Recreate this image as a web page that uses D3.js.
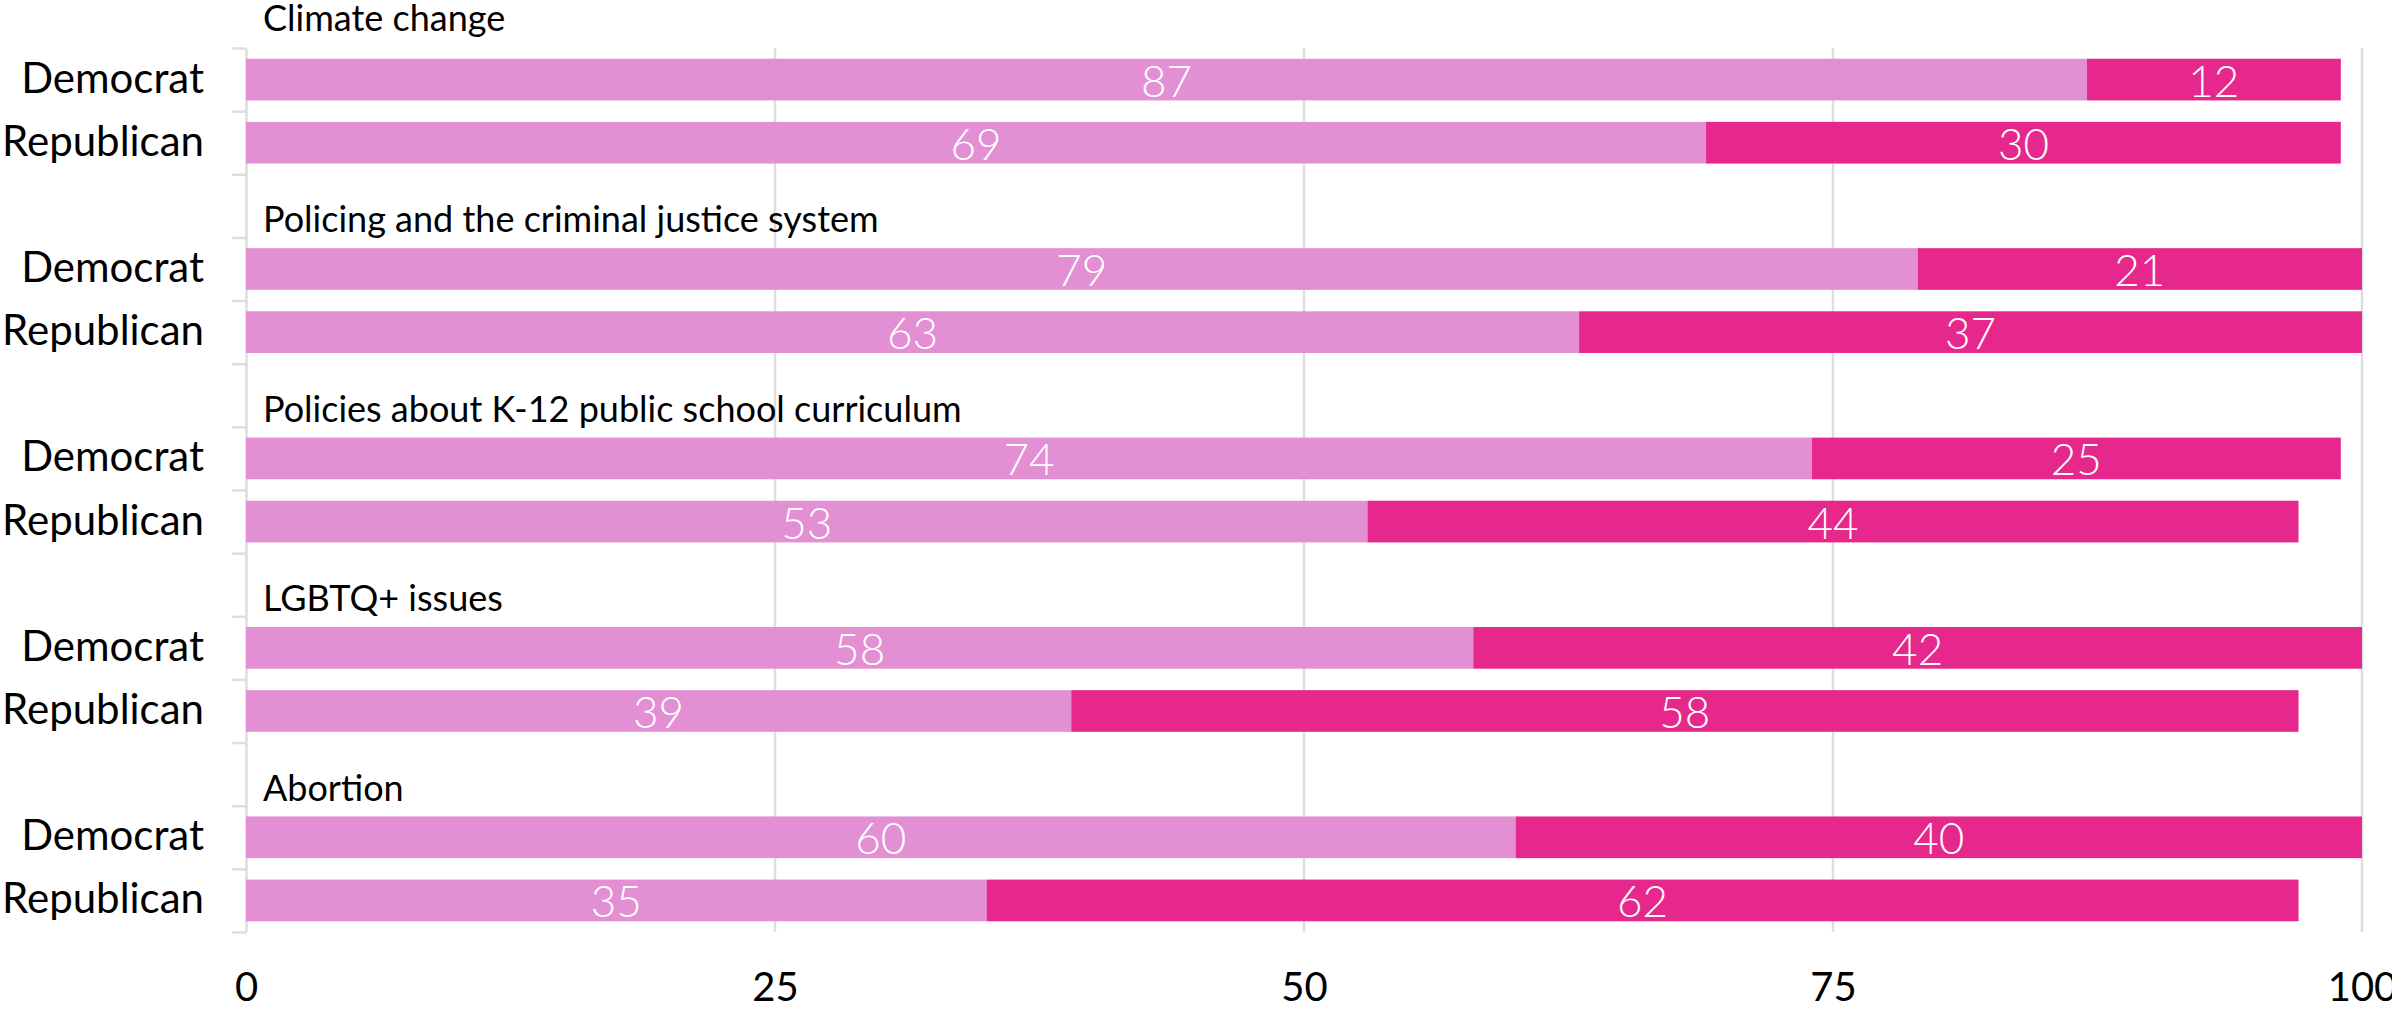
<!DOCTYPE html>
<html>
<head>
<meta charset="utf-8">
<script src="https://cdn.jsdelivr.net/npm/d3@7"></script>
<style>
  html, body { margin: 0; padding: 0; background: #fff; }
  svg { display: block; }
  text { font-family: Lato, "Noto Sans", sans-serif; }
</style>
</head>
<body>
<svg id="chart" width="2392" height="1009"></svg>
<script>
// ---- data ----
const issues = [
  "Climate change",
  "Policing and the criminal justice system",
  "Policies about K-12 public school curriculum",
  "LGBTQ+ issues",
  "Abortion"
];
const parties = ["Democrat", "Republican"];
const democratFirst = [87, 79, 74, 58, 60];
const democratSecond = [12, 21, 25, 42, 40];
const republicanFirst = [69, 63, 53, 39, 35];
const republicanSecond = [30, 37, 44, 58, 62];
const xTickValues = [0, 25, 50, 75, 100];

(function () {
// ---- layout ----
const plotLeft = 246, plotRight = 2362, plotTop = 48, plotBottom = 932;
const lightColor = "#e28fd4";
const darkColor = "#e6288c";
const gridColor = "#dedede";

const svg = d3.select("#chart");

// rows: spacer before every issue except first, then Democrat, Republican
const rows = [];
issues.forEach((issue, i) => {
  if (i > 0) rows.push({ key: "gap" + i, type: "gap", issue: i });
  rows.push({ key: "d" + i, type: "bar", issue: i, party: parties[0],
              first: democratFirst[i], second: democratSecond[i] });
  rows.push({ key: "r" + i, type: "bar", issue: i, party: parties[1],
              first: republicanFirst[i], second: republicanSecond[i] });
});

const x = d3.scaleLinear().domain([0, 100]).range([plotLeft, plotRight]);
const yBand = d3.scaleBand().domain(rows.map(r => r.key)).range([plotTop, plotBottom]).paddingInner(0).paddingOuter(0);
const slot = yBand.bandwidth();
const barH = slot * 0.66;
const barOff = (slot - barH) / 2;

// index scale for boundary ticks
const yIdx = d3.scaleLinear().domain([0, rows.length]).range([plotTop, plotBottom]);

// gridlines
svg.append("g").selectAll("line")
  .data(xTickValues.filter(v => v > 0))
  .join("line")
  .attr("x1", d => x(d)).attr("x2", d => x(d))
  .attr("y1", plotTop).attr("y2", plotBottom)
  .attr("stroke", gridColor).attr("stroke-width", 2.5);

// left axis with ticks at row boundaries
const yAxis = svg.append("g")
  .attr("transform", `translate(${plotLeft},0)`)
  .call(d3.axisLeft(yIdx).tickValues(d3.range(rows.length + 1)).tickFormat("").tickSize(14).tickSizeOuter(0));
yAxis.selectAll("path, line").attr("stroke", gridColor).attr("stroke-width", 2.5);

// x axis labels
const xAxis = svg.append("g")
  .attr("transform", `translate(0,${plotBottom})`)
  .call(d3.axisBottom(x).tickValues(xTickValues).tickSize(0).tickPadding(47));
xAxis.select(".domain").remove();
xAxis.selectAll("text")
  .attr("font-family", "Lato, 'Noto Sans', sans-serif")
  .attr("font-size", 40).attr("fill", "#000")
  .attr("dy", "0.55em");

const barRows = rows.filter(r => r.type === "bar");

// bars
const g = svg.append("g");
barRows.forEach(r => {
  const y0 = yBand(r.key) + barOff;
  g.append("rect")
    .attr("x", x(0)).attr("y", y0)
    .attr("width", x(r.first) - x(0)).attr("height", barH)
    .attr("fill", lightColor);
  g.append("rect")
    .attr("x", x(r.first)).attr("y", y0)
    .attr("width", x(r.first + r.second) - x(r.first)).attr("height", barH)
    .attr("fill", darkColor);
  const cy = yBand(r.key) + slot / 2;
  g.append("text")
    .attr("x", x(r.first / 2)).attr("y", cy + 17)
    .attr("text-anchor", "middle")
    .attr("font-size", 44).attr("font-weight", 300).attr("fill", "#fff")
    .text(r.first);
  g.append("text")
    .attr("x", x(r.first + r.second / 2)).attr("y", cy + 17)
    .attr("text-anchor", "middle")
    .attr("font-size", 44).attr("font-weight", 300).attr("fill", "#fff")
    .text(r.second);
  // party label
  svg.append("text")
    .attr("x", 204).attr("y", cy + 13)
    .attr("text-anchor", "end")
    .attr("font-size", 42).attr("fill", "#000")
    .text(r.party);
});

// issue titles
issues.forEach((issue, i) => {
  const topOfDem = yBand("d" + i);
  svg.append("text")
    .attr("x", 263).attr("y", i === 0 ? topOfDem - 17 : topOfDem - 5)
    .attr("font-size", 36).attr("fill", "#000")
    .text(issue);
});
})();
</script>
</body>
</html>
